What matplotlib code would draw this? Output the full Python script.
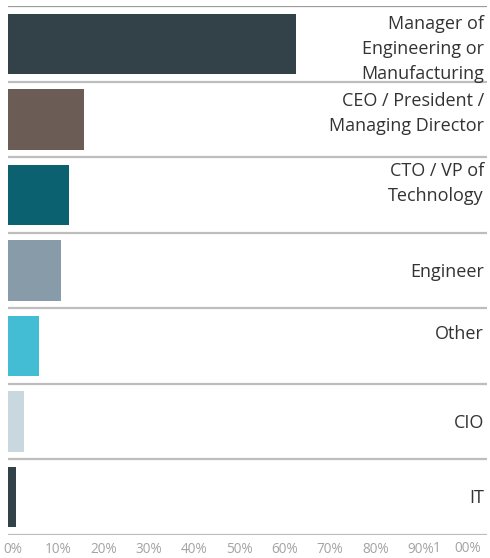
import matplotlib
matplotlib.use("Agg")
import matplotlib.pyplot as plt
import matplotlib.transforms as mtransforms

plt.rcParams['font.family'] = ['Open Sans', 'DejaVu Sans']

categories = ["Manager of\nEngineering or\nManufacturing",
              "CEO / President /\nManaging Director",
              "CTO / VP of\nTechnology",
              "Engineer",
              "Other",
              "CIO",
              "IT"]
values = [63.6, 16.8, 13.5, 11.7, 6.8, 3.5, 1.8]
colors = ["#334148", "#6b5d55", "#0b6170", "#879ca8", "#42bdd4", "#c9d8df", "#334148"]
tick_values = [0, 10, 20, 30, 40, 50, 60, 70, 80, 90, 100]
tick_labels = ["0%", "10%", "20%", "30%", "40%", "50%", "60%", "70%", "80%", "90%", ""]
# vertical nudges for category labels (pixels, + = up)
label_nudge = [-5, 6, 11.5, -1.5, 12, -1.5, -1]

W, H = 490, 558
fig = plt.figure(figsize=(W / 100, H / 100), dpi=100)
left, right, top, bottom = 8, 487, 6, 535
ax = fig.add_axes([left / W, 1 - bottom / H, (right - left) / W, (bottom - top) / H])

n = len(categories)
ypos = list(range(n))
ax.barh(ypos, values, height=0.80, color=colors, zorder=2)
ax.set_ylim(n - 0.5, -0.5)
ax.set_xlim(0, (right - left) / 4.53)

for i in range(n + 1):
    ax.axhline(i - 0.5, color="#9a9a9a" if i == 0 else "#bdbdbd", lw=1.6, zorder=1)

for s in ax.spines.values():
    s.set_visible(False)
ax.set_yticks([])
ax.set_xticks(tick_values)
ax.set_xticklabels(tick_labels)
tick_fs = 9.8
ax.tick_params(axis='x', length=0, pad=5, labelsize=tick_fs, labelcolor="#a3a3a3")
off = mtransforms.ScaledTranslation(5 / 100, 0, fig.dpi_scale_trans)
for lab in ax.get_xticklabels():
    lab.set_transform(lab.get_transform() + off)
# the last label is rendered split in the reference: "1" then "00%"
fig.text(433 / W, 1 - 549 / H, "1", ha='left', va='center', fontsize=tick_fs, color="#a3a3a3")
fig.text(454 / W, 1 - 549 / H, "00%", ha='left', va='center', fontsize=tick_fs, color="#a3a3a3")

trans = mtransforms.blended_transform_factory(ax.transAxes, ax.transData)
for i, (cat, nud) in enumerate(zip(categories, label_nudge)):
    t = trans + mtransforms.ScaledTranslation(0, nud / 100, fig.dpi_scale_trans)
    ax.text(1 - 3 / (right - left), i, cat, transform=t, ha='right', va='center',
            fontsize=13, color="#333333", linespacing=1.48, multialignment='right')

fig.savefig("out.png", dpi=100)
